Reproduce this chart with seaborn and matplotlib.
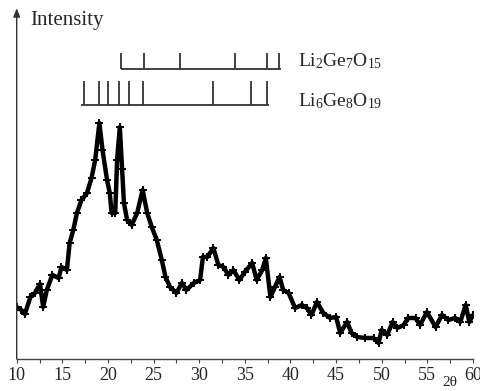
import matplotlib
matplotlib.use("Agg")
import matplotlib.pyplot as plt
import seaborn as sns
import pandas as pd

two_theta = [10.0, 10.5, 10.9, 11.5, 12.0, 12.55, 12.9, 13.3, 13.9, 14.6, 14.9, 15.5, 15.8,
             16.2, 16.6, 17.1, 17.7, 18.2, 18.6, 19.06, 19.4, 19.9, 20.2, 20.4, 20.8, 21.0,
             21.3, 21.55, 21.75, 22.1, 22.6, 23.2, 23.8, 24.3, 24.8, 25.35, 25.9, 26.3, 26.8,
             27.5, 28.1, 28.6, 29.4, 30.1, 30.4, 30.9, 31.55, 32.1, 32.65, 33.2, 33.75, 34.4,
             35.0, 35.8, 36.3, 36.9, 37.3, 37.8, 38.3, 38.8, 39.2, 39.8, 40.5, 41.25, 41.8,
             42.3, 42.9, 43.6, 44.35, 45.0, 45.45, 46.2, 46.7, 47.3, 48.2, 49.1, 49.65, 50.0,
             50.6, 51.2, 51.7, 52.4, 52.9, 53.7, 54.2, 54.95, 55.9, 56.6, 57.3, 58.05, 58.6,
             59.2, 59.6, 60.0]
intensity = [52, 49, 45, 62, 66, 75, 52, 69, 84, 81, 92, 89, 116,
             129, 146, 159, 166, 181, 199, 236, 209, 179, 166, 146, 146, 199,
             232, 190, 156, 139, 134, 146, 169, 146, 132, 119, 99, 82, 72,
             66, 76, 69, 76, 79, 102, 102, 111, 94, 92, 84, 89, 79,
             87, 96, 79, 89, 101, 62, 72, 82, 69, 66, 51, 54, 51,
             44, 57, 46, 41, 42, 26, 37, 26, 22, 21, 21, 16, 29,
             24, 37, 31, 34, 41, 41, 34, 47, 32, 44, 39, 41, 37,
             54, 37, 44]

li2_peaks = [21.4, 24.0, 27.9, 33.9, 37.4, 38.7]
li2_range = [21.4, 39.0]
li6_peaks = [17.38, 19.06, 19.98, 21.25, 22.35, 23.88, 31.49, 35.66, 37.41]
li6_range = [17.1, 37.7]
x_ticks = [10, 15, 20, 25, 30, 35, 40, 45, 50, 55, 60]

sns.set_style("white")
plt.rcParams['font.family'] = ['Liberation Serif', 'DejaVu Serif']
plt.rcParams['mathtext.fontset'] = 'custom'
plt.rcParams['mathtext.rm'] = 'Liberation Serif'
plt.rcParams['mathtext.it'] = 'Liberation Serif:italic'

fig = plt.figure(figsize=(4.81, 3.91), dpi=100)
ax = fig.add_axes([16.7 / 481, 32 / 391, 456.3 / 481, 349 / 391])

df = pd.DataFrame({"2theta": two_theta, "I": intensity})
sns.lineplot(data=df, x="2theta", y="I", ax=ax, color="black", linewidth=3.2,
             marker="+", markersize=6, markeredgewidth=1.4, markeredgecolor="black")

ax.set_xlim(10, 60)
ax.set_ylim(0, 349)
ax.set_xlabel("")
ax.set_ylabel("")
ax.set_yticks([])
ax.set_xticks(x_ticks)
ax.set_xticklabels([str(t) for t in x_ticks], fontsize=13)
ax.set_xticks([12.5 + 5 * i for i in range(10)], minor=True)
ax.tick_params(axis="x", which="both", direction="out", length=3, width=0.8,
               color="#444444", bottom=True, pad=3)

for s in ["top", "right", "left"]:
    ax.spines[s].set_visible(False)
ax.spines["bottom"].set_color("#444444")
ax.spines["bottom"].set_linewidth(1.0)

# y axis arrow
ax.annotate("", xy=(0, 1.005), xytext=(0, 0), xycoords="axes fraction",
            textcoords="axes fraction",
            arrowprops=dict(arrowstyle="-|>,head_length=0.5,head_width=0.2",
                            color="#333333", lw=1.0, shrinkA=0, shrinkB=0),
            annotation_clip=False)

# stick patterns
line_c = "#333333"
ax.plot(li2_range, [290, 290], color=line_c, lw=1.3, solid_capstyle="butt")
ax.vlines(li2_peaks, 290, 306, color=line_c, lw=1.3)
ax.plot(li6_range, [253.7, 253.7], color=line_c, lw=1.3, solid_capstyle="butt")
ax.vlines(li6_peaks, 253.7, 278.3, color=line_c, lw=1.3)

ax.text(40.8, 298, "Li$_2$Ge$_7$O$_{15}$", fontsize=14, va="center", ha="left")
ax.text(40.8, 258, "Li$_6$Ge$_8$O$_{19}$", fontsize=14, va="center", ha="left")
ax.text(11.5, 338, "Intensity", fontsize=15, va="center", ha="left", clip_on=False)

fig.text(450 / 481, 2 / 391, "2\u03b8", fontsize=11, ha="center", va="bottom")

fig.savefig("out.png", dpi=100)
